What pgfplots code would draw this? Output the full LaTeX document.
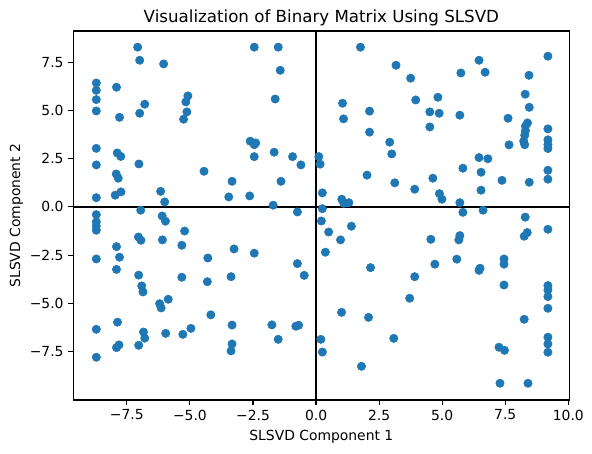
\documentclass[border=0pt]{standalone}
\usepackage{pgfplots}
\pgfplotsset{compat=1.18}
\usepackage{fontspec}
\setmainfont{DejaVu Sans}
\definecolor{mplblue}{HTML}{1F77B4}

\pgfplotstableread{
x y
-7.07 8.29
-6.99 7.61
-6.04 7.42
-8.71 6.43
-8.71 6.05
-8.71 5.57
-8.71 4.98
-7.91 6.21
-6.79 5.33
-6.99 4.86
-7.79 4.65
-5.08 5.76
-5.16 5.45
-5.12 4.93
-5.25 4.55
-8.71 3.04
-7.88 2.80
-7.74 2.62
-8.71 2.18
-7.02 2.23
-4.44 1.85
-3.33 1.33
-7.92 1.71
-7.84 1.49
-7.73 0.78
-7.96 0.61
-8.71 0.48
-6.16 0.81
-6.00 0.26
-3.46 0.52
-2.45 8.29
-1.50 8.29
-1.42 7.09
-1.62 5.60
-2.61 3.41
-2.39 3.32
-2.45 3.23
-2.45 2.61
-1.66 2.84
-0.93 2.61
-0.60 2.18
-1.39 1.33
-2.63 0.57
-1.70 0.09
0.11 2.61
0.16 2.22
1.76 8.29
3.17 7.35
1.05 5.38
2.12 4.97
1.09 4.57
2.12 3.88
2.92 3.36
3.00 2.75
2.02 1.65
3.12 1.25
0.25 0.73
1.02 0.40
1.10 0.19
1.30 0.22
3.75 6.68
6.46 7.61
9.19 7.82
5.74 6.95
6.70 6.99
8.44 6.83
3.95 5.55
4.83 5.69
4.51 4.93
4.88 4.86
4.51 4.15
5.70 4.76
8.29 5.85
8.45 5.17
7.61 4.60
9.19 4.05
8.38 4.36
8.30 4.19
8.30 3.96
8.27 3.72
8.23 3.41
8.27 3.23
9.19 3.48
9.19 3.23
9.19 3.03
7.65 3.22
6.46 2.56
6.81 2.50
5.82 2.01
4.63 1.49
6.54 1.80
7.37 1.38
8.45 1.28
9.19 1.90
9.19 1.44
3.91 0.92
4.89 0.69
4.99 0.40
6.54 0.87
5.70 0.22
-0.74 -0.26
-6.95 -0.17
-8.71 -0.40
-8.71 -0.78
-8.71 -1.00
-8.71 -1.21
-6.10 -0.47
-5.97 -0.74
-5.21 -1.25
-7.04 -1.56
-6.94 -1.73
-6.09 -1.71
-5.32 -1.99
-7.91 -2.06
-3.25 -2.18
-7.79 -2.61
-8.71 -2.70
-4.29 -2.65
-7.91 -3.24
-7.03 -3.54
-5.32 -3.65
-4.31 -3.88
-3.37 -3.62
-6.91 -4.10
-6.86 -4.41
-5.86 -4.79
-6.20 -5.02
-6.14 -5.24
-4.17 -5.60
-8.71 -6.35
-7.87 -5.98
-6.84 -6.49
-6.79 -6.81
-5.96 -6.56
-5.28 -6.61
-4.96 -6.30
-3.33 -6.13
-3.33 -7.11
-3.37 -7.47
-7.91 -7.30
-7.81 -7.16
-7.03 -7.18
-8.71 -7.80
-2.45 -2.40
-0.74 -2.94
-0.47 -3.55
-1.75 -6.12
-0.80 -6.19
-0.69 -6.14
-1.50 -6.87
0.25 -0.09
0.21 -0.73
0.50 -1.30
1.40 -1.00
0.97 -1.71
0.37 -2.35
2.16 -3.15
1.01 -5.47
2.08 -5.73
3.08 -6.82
0.19 -6.87
0.25 -7.53
1.80 -8.27
3.71 -4.74
6.62 -0.17
5.82 -0.28
8.29 -0.53
9.19 -1.16
8.37 -1.33
8.25 -1.52
4.55 -1.68
5.70 -1.49
5.66 -1.71
4.71 -2.97
5.58 -2.71
6.50 -3.18
6.46 -3.29
7.45 -2.70
7.45 -2.97
3.91 -3.62
7.45 -4.05
9.19 -4.08
9.19 -4.31
9.19 -4.65
9.19 -5.26
8.25 -5.83
9.19 -6.76
9.19 -7.11
9.19 -7.54
7.25 -7.28
7.47 -7.44
7.29 -9.15
8.40 -9.15
}\slsvd

\begin{document}
\begin{tikzpicture}
\begin{axis}[
  scale only axis,
  width=357.1pt, height=265.7pt,
  xmin=-9.62, xmax=10.04,
  ymin=-10.02, ymax=9.13,
  axis line style={line width=0.8pt},
  tick align=outside,
  xtick pos=bottom, ytick pos=left,
  major tick length=3.5pt,
  tick style={line width=0.8pt, black},
  xtick={-7.5,-5,-2.5,0,2.5,5,7.5,10},
  xticklabels={−7.5,−5.0,−2.5,0.0,2.5,5.0,7.5,10.0},
  ytick={-7.5,-5,-2.5,0,2.5,5,7.5},
  yticklabels={−7.5,−5.0,−2.5,0.0,2.5,5.0,7.5},
  ticklabel style={font=\fontsize{10}{12}\selectfont},
  title={Visualization of Binary Matrix Using SLSVD},
  title style={font=\fontsize{12}{14}\selectfont, at={(0.5,1)}, anchor=base, yshift=0pt},
  xlabel={SLSVD Component 1},
  ylabel={SLSVD Component 2},
  label style={font=\fontsize{10}{12}\selectfont},
  ylabel style={yshift=-2pt},
]
\addplot[only marks, mark=*, mark size=3pt,
  mark options={draw=mplblue, fill=mplblue, line width=0.4pt}] table {\slsvd};
\addplot[black, line width=1.5pt] coordinates {(0,-10.02) (0,9.13)};
\addplot[black, line width=1.5pt] coordinates {(-9.62,0) (10.04,0)};
\end{axis}
\pgfresetboundingbox
\path ([shift={(-52.8pt,-38.2pt)}]current axis.south west)
  rectangle ([shift={(16.3pt,22.3pt)}]current axis.north east);
\end{tikzpicture}
\end{document}
